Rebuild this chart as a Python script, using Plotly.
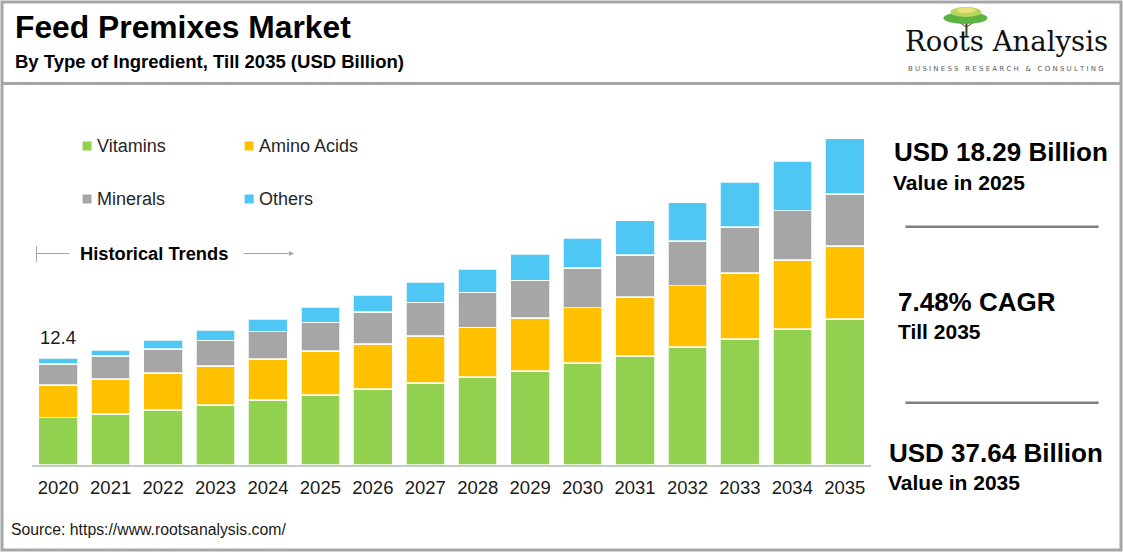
import plotly.graph_objects as go

years = [str(y) for y in range(2020, 2036)]
vitamins = [5.46, 5.88, 6.34, 6.92, 7.53, 8.11, 8.77, 9.46, 10.18, 10.88, 11.80, 12.60, 13.64, 14.57, 15.72, 16.87]
amino_acids = [3.77, 4.04, 4.27, 4.53, 4.69, 5.04, 5.22, 5.42, 5.73, 6.08, 6.39, 6.80, 7.08, 7.61, 7.96, 8.42]
minerals = [2.46, 2.65, 2.77, 2.96, 3.23, 3.34, 3.69, 3.92, 4.04, 4.38, 4.57, 4.84, 5.14, 5.31, 5.70, 6.00]
others = [0.66, 0.69, 1.04, 1.15, 1.38, 1.73, 1.93, 2.31, 2.70, 3.05, 3.43, 4.00, 4.46, 5.16, 5.69, 6.42]

series_names = ["Vitamins", "Amino Acids", "Minerals", "Others"]
series_colors = ["#92D050", "#FFC000", "#A6A6A6", "#4FC7F4"]
series_values = [vitamins, amino_acids, minerals, others]

first_label = "12.4"

W_FIG, H_FIG = 1123, 553
L, R, T, B = 32, 870.6, 130, 465
PW, PH = R - L, B - T

def px(x):
    return (x - L) / PW

def py(y):
    return (B - y) / PH

FONT = "Liberation Sans, Arial, sans-serif"
TXT = "#1a1a1a"

fig = go.Figure()
for name, color, vals in zip(series_names, series_colors, series_values):
    fig.add_trace(go.Bar(
        x=years, y=vals, name=name,
        marker=dict(color=color, line=dict(color="rgba(255,255,255,0.75)", width=1.5)),
        showlegend=False, hoverinfo="x+y+name",
    ))

ymax = 38.7

annotations = []
shapes = []

def text(x, y, s, size, color=TXT, bold=False, family=FONT, xanchor="left"):
    annotations.append(dict(
        x=px(x), y=py(y), xref="paper", yref="paper",
        text=("<b>%s</b>" % s) if bold else s, showarrow=False,
        xanchor=xanchor, yanchor="middle", borderpad=0, borderwidth=0,
        font=dict(family=family, size=size, color=color),
    ))

# Title block
text(15.5, 27, "Feed Premixes Market", 31.8, color="#000000", bold=True)
text(15, 62, "By Type of Ingredient, Till 2035 (USD Billion)", 18.5, color="#000000", bold=True)

# Tree logo (simple)
shapes.append(dict(type="line", xref="paper", yref="paper",
                   x0=px(966), x1=px(966), y0=py(20), y1=py(36),
                   line=dict(color="#4d3d1f", width=2)))
shapes.append(dict(type="line", xref="paper", yref="paper",
                   x0=px(966), x1=px(957), y0=py(27), y1=py(21),
                   line=dict(color="#4d3d1f", width=1)))
shapes.append(dict(type="line", xref="paper", yref="paper",
                   x0=px(966), x1=px(975), y0=py(27), y1=py(21),
                   line=dict(color="#4d3d1f", width=1)))
shapes.append(dict(type="circle", xref="paper", yref="paper",
                   x0=px(943), x1=px(987), y0=py(24), y1=py(12),
                   fillcolor="#5DB443", line=dict(width=0)))
shapes.append(dict(type="circle", xref="paper", yref="paper",
                   x0=px(950), x1=px(981), y0=py(17), y1=py(7),
                   fillcolor="#B9D65A", line=dict(width=0)))
shapes.append(dict(type="circle", xref="paper", yref="paper",
                   x0=px(956), x1=px(975), y0=py(13), y1=py(7.5),
                   fillcolor="#E4E27A", line=dict(width=0)))

# Logo text
text(1006, 41, "Roots Analysis", 27.5, color="#111111", family="DejaVu Serif, serif", xanchor="center")
text(1006, 69, "B U S I N E S S &nbsp; R E S E A R C H &nbsp; &amp; &nbsp; C O N S U L T I N G",
     7, color="#595959", family="DejaVu Sans, sans-serif", xanchor="center")

# Legend (manual 2x2)
legend_pos = [(87, 146), (249, 146), (87, 199), (249, 199)]
for (lx, ly), name, color in zip(legend_pos, series_names, series_colors):
    shapes.append(dict(type="rect", xref="paper", yref="paper",
                       x0=px(lx - 4.5), x1=px(lx + 4.5), y0=py(ly + 4.5), y1=py(ly - 4.5),
                       fillcolor=color, line=dict(width=0)))
    text(lx + 10, ly, name, 18, color="#262626")

# Historical trends marker
text(80, 253, "Historical Trends", 18.3, color="#000000", bold=True)
shapes.append(dict(type="line", xref="paper", yref="paper",
                   x0=px(36.5), x1=px(36.5), y0=py(246), y1=py(262),
                   line=dict(color="#A6A6A6", width=1)))
shapes.append(dict(type="line", xref="paper", yref="paper",
                   x0=px(36.5), x1=px(69.5), y0=py(253.5), y1=py(253.5),
                   line=dict(color="#A6A6A6", width=1)))
annotations.append(dict(
    x=px(294), y=py(253.5), ax=-52, ay=0,
    xref="paper", yref="paper", axref="pixel", ayref="pixel",
    text="", showarrow=True, arrowhead=2, arrowsize=1, arrowwidth=1,
    arrowcolor="#A6A6A6",
))

# First bar label (category index 0 = first year)
annotations.append(dict(
    x=0, y=sum(s[0] for s in series_values), xref="x", yref="y",
    text=first_label, showarrow=False, yanchor="middle", yshift=21,
    font=dict(family=FONT, size=18.5, color=TXT),
))

# Right-hand info panel
text(894, 152, "USD 18.29 Billion", 26, color="#000000", bold=True)
text(893, 182, "Value in 2025", 21, color="#000000", bold=True)
shapes.append(dict(type="line", xref="paper", yref="paper",
                   x0=px(905), x1=px(1098), y0=py(226.7), y1=py(226.7),
                   line=dict(color="#7F7F7F", width=2.5)))
text(897.5, 301.5, "7.48% CAGR", 26, color="#000000", bold=True)
text(898, 331, "Till 2035", 21, color="#000000", bold=True)
shapes.append(dict(type="line", xref="paper", yref="paper",
                   x0=px(905), x1=px(1098), y0=py(402.7), y1=py(402.7),
                   line=dict(color="#7F7F7F", width=2.5)))
text(888.5, 453, "USD 37.64 Billion", 26, color="#000000", bold=True)
text(888, 482.5, "Value in 2035", 21, color="#000000", bold=True)

# Source
text(11, 529, "Source: https://www.rootsanalysis.com/", 15.8, color="#1a1a1a")

# Borders
shapes.append(dict(type="rect", xref="paper", yref="paper",
                   x0=px(2), x1=px(1120.5), y0=py(550), y1=py(2),
                   line=dict(color="#A6A6A6", width=3), fillcolor="rgba(0,0,0,0)"))
shapes.append(dict(type="line", xref="paper", yref="paper",
                   x0=px(2), x1=px(1120.5), y0=py(83.5), y1=py(83.5),
                   line=dict(color="#A6A6A6", width=3)))

fig.update_layout(
    width=W_FIG, height=H_FIG,
    margin=dict(l=L, r=W_FIG - R, t=T, b=H_FIG - B, pad=0),
    barmode="stack", bargap=0.256,
    paper_bgcolor="white", plot_bgcolor="white",
    font=dict(family=FONT, color=TXT),
    annotations=annotations, shapes=shapes,
    xaxis=dict(type="category", range=[-0.5, len(years) - 0.5], autorange=False,
               showgrid=False, showline=True, linecolor="#C8C8C8",
               linewidth=2, ticks="", ticklabelstandoff=5,
               tickfont=dict(size=18.5, color=TXT, family=FONT),
               fixedrange=True),
    yaxis=dict(range=[0, ymax], autorange=False, visible=False, showgrid=False, fixedrange=True),
)

fig.write_html("out.html", config={"displayModeBar": False},
               post_script="document.body.style.margin='0';document.body.style.overflow='hidden';")
